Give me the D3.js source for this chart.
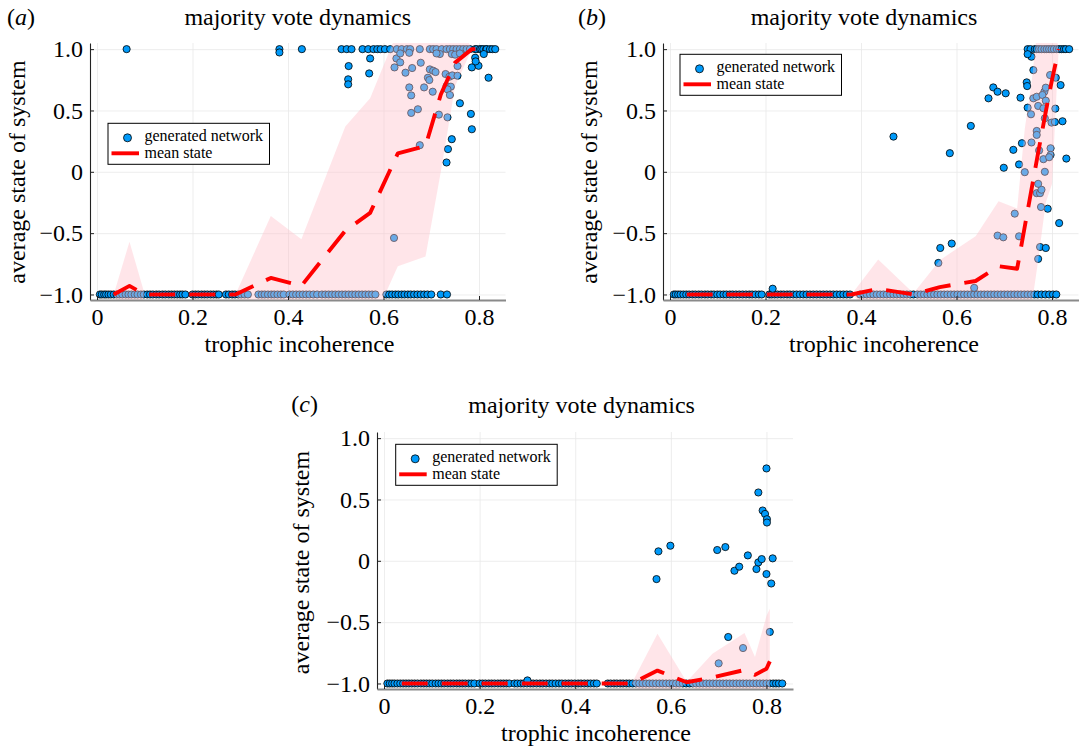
<!DOCTYPE html>
<html>
<head>
<meta charset="utf-8">
<script src="https://cdn.jsdelivr.net/npm/d3@7"></script>
<style>
  html, body { margin: 0; padding: 0; background: #fff; }
  svg { display: block; }
  text { font-family: "Liberation Serif", "Times New Roman", serif; fill: #000; }
</style>
</head>
<body>
<svg id="chart" width="1079" height="746"></svg>
<script>
// ---------- shared axis values ----------
const xTicks = [0, 0.2, 0.4, 0.6, 0.8];
const xTickLabels = ["0", "0.2", "0.4", "0.6", "0.8"];
const yTicks = [-1, -0.5, 0, 0.5, 1];
const yTickLabels = ["\u22121.0", "\u22120.5", "0", "0.5", "1.0"];
const titleText = "majority vote dynamics";
const xLabelText = "trophic incoherence";
const yLabelText = "average state of system";
const legendPoints = "generated network";
const legendLine = "mean state";

// ---------- panel (a) ----------
const aBottomX = [0.006, 0.010, 0.015, 0.019, 0.024, 0.029, 0.035, 0.041, 0.047, 0.053, 0.060, 0.066, 0.072, 0.079, 0.085, 0.092, 0.098, 0.105, 0.111, 0.117, 0.124, 0.130, 0.137, 0.143, 0.150, 0.156, 0.162, 0.168, 0.174, 0.179, 0.185,
  0.200, 0.206, 0.212, 0.219, 0.225, 0.231, 0.238, 0.244, 0.250, 0.255,
  0.270, 0.276, 0.283, 0.289, 0.296, 0.302, 0.309, 0.316,
  0.338, 0.345, 0.351, 0.358, 0.365, 0.371, 0.378, 0.385, 0.391,
  0.403, 0.410, 0.417, 0.424, 0.431, 0.438, 0.445, 0.453, 0.461,
  0.471, 0.478, 0.485, 0.492, 0.499, 0.506, 0.513, 0.520, 0.527, 0.534, 0.541, 0.548, 0.555, 0.562, 0.569, 0.576, 0.583,
  0.606, 0.612, 0.618, 0.625, 0.631, 0.638, 0.644, 0.651, 0.657, 0.664, 0.671, 0.678, 0.685, 0.692, 0.700,
  0.720, 0.733];
const aTopX = [0.062, 0.382, 0.429, 0.512, 0.523, 0.533, 0.556, 0.568, 0.579, 0.587, 0.594, 0.603, 0.614, 0.628, 0.638, 0.649, 0.656, 0.676, 0.697, 0.704, 0.711, 0.722, 0.732, 0.739, 0.746, 0.753, 0.760, 0.767, 0.774, 0.781, 0.792, 0.795, 0.802, 0.805, 0.809, 0.815, 0.816, 0.823, 0.828, 0.834];
const aPtX = [0.382, 0.527, 0.526, 0.526, 0.572, 0.570, 0.760, 0.783, 0.785, 0.743, 0.735, 0.732, 0.785, 0.799, 0.820, 0.810, 0.792, 0.793,
  0.623, 0.627, 0.635, 0.635, 0.654, 0.646, 0.660, 0.654, 0.658, 0.678, 0.685, 0.697, 0.704, 0.709, 0.693, 0.696, 0.703, 0.658, 0.672, 0.716, 0.734, 0.730, 0.738, 0.732, 0.741, 0.734, 0.744, 0.739, 0.755, 0.755, 0.676, 0.622, 0.743, 0.750, 0.760, 0.718, 0.711];
const aPtY = [0.973, 0.862, 0.754, 0.713, 0.924, 0.802, 0.559, 0.472, 0.347, 0.266, 0.185, 0.076, 0.851, 0.864, 0.767, 0.960, 0.930, 0.900,
  0.851, 0.924, 0.892, 0.965, 0.970, 0.808, 0.846, 0.688, 0.623, 0.889, 0.688, 0.835, 0.824, 0.813, 0.767, 0.748, 0.653, 0.480, 0.510, 0.466, 0.444, 0.797, 0.775, 0.699, 0.694, 0.672, 0.786, 0.626, 0.862, 0.783, 0.217, -0.539, 0.960, 0.955, 0.965, 0.960, 0.965];
const aBinX = [0.035, 0.068, 0.100, 0.160, 0.200, 0.245, 0.290, 0.364, 0.428, 0.520, 0.572, 0.630, 0.688, 0.720, 0.750, 0.785, 0.815];
const aMean = [-1, -0.93, -1, -1, -1, -1, -1, -0.865, -0.93, -0.48, -0.335, 0.15, 0.21, 0.63, 0.89, 1.0, 1.0];
const aHi   = [-1, -0.57, -1, -1, -1, -1, -1, -0.36, -0.55, 0.37, 0.60, 1.15, 1.15, 1.30, 1.30, 1.0, 1.0];
const aLo   = [-1, -1.29, -1, -1, -1, -1, -1, -1.37, -1.31, -1.33, -1.27, -0.77, -0.69, 0.0, 0.70, 1.0, 1.0];

// ---------- panel (b) ----------
const bBottomX = [0.008, 0.012, 0.017, 0.022, 0.028, 0.034, 0.040, 0.047, 0.053, 0.060, 0.066, 0.073, 0.079, 0.086, 0.092, 0.099, 0.105, 0.112, 0.118, 0.125, 0.131, 0.138, 0.145, 0.152, 0.159, 0.166, 0.172, 0.179, 0.186, 0.192,
  0.208, 0.213, 0.219, 0.225, 0.232, 0.238, 0.245, 0.251, 0.258, 0.265, 0.272, 0.279, 0.286, 0.293, 0.300, 0.307, 0.314, 0.321, 0.328, 0.335, 0.342, 0.349, 0.356, 0.363, 0.370, 0.377,
  0.398, 0.405, 0.412, 0.419, 0.426, 0.433, 0.440, 0.447, 0.454, 0.461, 0.468, 0.475, 0.482, 0.489, 0.496, 0.503, 0.510, 0.518, 0.525, 0.532, 0.539, 0.546, 0.553, 0.560, 0.567, 0.574, 0.581, 0.588, 0.595, 0.602, 0.609, 0.616, 0.623, 0.630, 0.637, 0.644, 0.651, 0.658, 0.665, 0.672, 0.679, 0.686, 0.693, 0.700, 0.707, 0.714, 0.721, 0.728, 0.735, 0.742, 0.749, 0.756, 0.763, 0.770, 0.778, 0.786, 0.794, 0.802, 0.809];
const bTopX = [0.749, 0.755, 0.764, 0.768, 0.773, 0.778, 0.784, 0.789, 0.794, 0.799, 0.804, 0.810, 0.815, 0.820, 0.825, 0.829, 0.836];
const bPtX = [0.468, 0.586, 0.566, 0.590, 0.630, 0.667, 0.677, 0.686, 0.703, 0.734, 0.699, 0.719, 0.731, 0.737, 0.747, 0.748, 0.749, 0.757, 0.749, 0.761, 0.775, 0.787, 0.791, 0.815, 0.818, 0.822, 0.830, 0.215,
  0.562, 0.637, 0.686, 0.698, 0.722, 0.731, 0.743, 0.757, 0.768, 0.768, 0.773, 0.782, 0.785, 0.768, 0.775, 0.778, 0.771, 0.777, 0.761, 0.768, 0.771, 0.782, 0.784, 0.787, 0.796, 0.808, 0.807, 0.799, 0.806, 0.797, 0.797, 0.794, 0.785, 0.756, 0.780, 0.787, 0.771];
const bPtY = [0.287, 0.152, -0.621, -0.585, 0.374, 0.599, 0.688, 0.653, 0.640, 0.604, 0.033, 0.179, 0.060, 0.233, 0.729, 0.699, 0.523, 0.938, 0.959, 0.829, -0.613, -0.621, -0.301, -0.418, 0.707, 0.412, 0.108, -0.953,
  -0.743, -0.946, -0.520, -0.534, -0.341, -0.526, -0.003, 0.239, 0.333, 0.301, 0.174, 0.103, 0.000, -0.174, -0.174, -0.146, -0.098, -0.287, 0.599, 0.612, 0.537, 0.518, 0.653, 0.686, 0.789, 0.767, 0.515, 0.401, 0.406, 0.192, 0.138, 0.119, 0.436, 0.469, 0.626, 0.580, -0.710];
const bBinX = [0.035, 0.090, 0.140, 0.190, 0.240, 0.300, 0.380, 0.436, 0.510, 0.565, 0.640, 0.688, 0.727, 0.743, 0.757, 0.770, 0.787, 0.800, 0.814];
const bMean = [-1, -1, -1, -1, -1, -1, -1, -0.954, -1.0, -0.94, -0.89, -0.77, -0.79, -0.446, -0.145, 0.135, 0.49, 0.75, 1.0];
const bHi   = [-1, -1, -1, -1, -1, -1, -1, -0.715, -0.99, -0.72, -0.525, -0.24, -0.30, 0.35, 0.72, 1.20, 1.30, 1.30, 1.0];
const bLo   = [-1, -1, -1, -1, -1, -1, -1, -1.19, -1.01, -1.16, -1.255, -1.30, -1.28, -1.25, -1.10, -0.75, -0.25, -0.10, 1.0];

// ---------- panel (c) ----------
const cBottomX = [0.007, 0.012, 0.017, 0.022, 0.028, 0.034, 0.040, 0.046, 0.052, 0.058, 0.064, 0.070, 0.077, 0.083, 0.089, 0.095, 0.101, 0.108, 0.114, 0.120, 0.126, 0.133, 0.139, 0.145, 0.152, 0.158, 0.164, 0.170, 0.177, 0.183, 0.189,
  0.200, 0.206, 0.212, 0.219, 0.225, 0.231, 0.238, 0.244, 0.250, 0.256, 0.262,
  0.273, 0.279, 0.286, 0.292, 0.299, 0.306, 0.312, 0.319, 0.326, 0.332, 0.339, 0.346, 0.352, 0.359, 0.366, 0.372, 0.379, 0.386, 0.392, 0.399, 0.406, 0.412, 0.419, 0.426, 0.432, 0.439, 0.445,
  0.468, 0.474, 0.481, 0.487, 0.494, 0.500, 0.507, 0.513, 0.520, 0.527, 0.534, 0.541, 0.548, 0.555, 0.562, 0.569, 0.576, 0.583, 0.590, 0.597, 0.604, 0.611, 0.618, 0.625, 0.632, 0.639, 0.646, 0.653, 0.660, 0.667, 0.674, 0.681, 0.688, 0.695, 0.702, 0.709, 0.716, 0.723, 0.730, 0.737, 0.744, 0.751, 0.758, 0.765, 0.772, 0.779, 0.786, 0.793, 0.800, 0.807, 0.814, 0.820, 0.826, 0.833];
const cTopX = [];
const cPtX = [0.800, 0.783, 0.792, 0.797, 0.801, 0.801, 0.570, 0.574, 0.599, 0.697, 0.714, 0.733, 0.743, 0.761, 0.779, 0.783, 0.790, 0.800, 0.810, 0.813, 0.720, 0.300,
  0.700, 0.751, 0.807];
const cPtY = [0.753, 0.557, 0.410, 0.382, 0.339, 0.312, -0.149, 0.077, 0.123, 0.088, 0.112, -0.081, -0.048, 0.044, -0.067, -0.013, 0.014, -0.108, -0.185, 0.020, -0.621, -0.975,
  -0.836, -0.711, -0.580];
const cBinX = [0.037, 0.100, 0.200, 0.300, 0.400, 0.450, 0.518, 0.572, 0.633, 0.687, 0.754, 0.776, 0.800, 0.807];
const cMean = [-1, -1, -1, -1, -1, -1, -1, -0.895, -0.99, -0.95, -0.89, -0.93, -0.88, -0.82];
const cHi   = [-1, -1, -1, -1, -1, -1, -1, -0.594, -0.985, -0.757, -0.589, -0.785, -0.45, -0.39];
const cLo   = [-1, -1, -1, -1, -1, -1, -1, -1.196, -0.995, -1.143, -1.191, -1.075, -1.31, -1.25];

// ---------- layout of the three panels ----------
const panels = [
  { tag: "a", bottomX: aBottomX, topX: aTopX, ptX: aPtX, ptY: aPtY, binX: aBinX, mean: aMean, hi: aHi, lo: aLo,
    box: { l: 90, r: 505.5, t: 43, b: 300 }, titleAt: [297.7, 25], tagAt: [7, 25], yLabAt: [24.5, 172], xLabAt: [299.5, 352], legendAt: [108, 123.3] },
  { tag: "b", bottomX: bBottomX, topX: bTopX, ptX: bPtX, ptY: bPtY, binX: bBinX, mean: bMean, hi: bHi, lo: bLo,
    box: { l: 663, r: 1078.5, t: 43, b: 300 }, titleAt: [864, 25], tagAt: [578, 25], yLabAt: [597, 172], xLabAt: [884, 352], legendAt: [680, 54.3] },
  { tag: "c", bottomX: cBottomX, topX: cTopX, ptX: cPtX, ptY: cPtY, binX: cBinX, mean: cMean, hi: cHi, lo: cLo,
    box: { l: 377, r: 793, t: 432, b: 689 }, titleAt: [581.6, 413.3], tagAt: [291.3, 411.7], yLabAt: [309, 562.5], xLabAt: [596, 741], legendAt: [395.7, 444.3] }
];

const xDomain = [-0.0147, 0.8555];
const yDomain = [-1.045, 1.05];
const pointFill = "#009afa";
const ribbonFill = "#ffc0cb";
const lineColor = "#ff0000";

const svg = d3.select("#chart");
svg.append("rect").attr("width", 1079).attr("height", 746).attr("fill", "#fff");

panels.forEach((p) => {
  const x = d3.scaleLinear().domain(xDomain).range([p.box.l, p.box.r]);
  const y = d3.scaleLinear().domain(yDomain).range([p.box.b, p.box.t]);
  const w = p.box.r - p.box.l, h = p.box.b - p.box.t;
  const g = svg.append("g");

  const clipId = "clip-" + p.tag;
  svg.append("clipPath").attr("id", clipId)
    .append("rect").attr("x", p.box.l).attr("y", p.box.t).attr("width", w).attr("height", h);

  // grid
  g.append("g").attr("transform", `translate(0,${p.box.b})`)
    .call(d3.axisBottom(x).tickValues(xTicks).tickSize(-h).tickFormat(""))
    .call(s => s.select(".domain").remove())
    .call(s => s.selectAll("line").attr("stroke", "#e9e9e9").attr("stroke-width", 0.8));
  g.append("g").attr("transform", `translate(${p.box.l},0)`)
    .call(d3.axisLeft(y).tickValues(yTicks).tickSize(-w).tickFormat(""))
    .call(s => s.select(".domain").remove())
    .call(s => s.selectAll("line").attr("stroke", "#e9e9e9").attr("stroke-width", 0.8));

  // scatter of generated networks
  const pts = [];
  p.bottomX.forEach(v => pts.push([v, -1]));
  p.topX.forEach(v => pts.push([v, 1]));
  p.ptX.forEach((v, k) => pts.push([v, p.ptY[k]]));
  const plot = g.append("g").attr("clip-path", `url(#${clipId})`);
  plot.append("g").selectAll("circle").data(pts).join("circle")
    .attr("cx", d => x(d[0])).attr("cy", d => y(d[1])).attr("r", 3.6)
    .attr("fill", pointFill).attr("stroke", "#000").attr("stroke-width", 0.8);

  // ribbon (mean ± spread), drawn over the points
  const band = p.binX.map((v, k) => ({ x: v, lo: p.lo[k], hi: p.hi[k], m: p.mean[k] }));
  plot.append("path").datum(band)
    .attr("d", d3.area().x(d => x(d.x)).y0(d => y(d.lo)).y1(d => y(d.hi)))
    .attr("fill", ribbonFill).attr("fill-opacity", 0.42).attr("stroke", "none");

  // mean state
  plot.append("path").datum(band)
    .attr("d", d3.line().x(d => x(d.x)).y(d => y(d.m)))
    .attr("fill", "none").attr("stroke", lineColor).attr("stroke-width", 3.9)
    .attr("stroke-dasharray", "26,14").attr("stroke-linejoin", "round");

  // axes
  const yAxis = g.append("g").attr("transform", `translate(${p.box.l},0)`)
    .call(d3.axisLeft(y).tickValues(yTicks).tickFormat((d, k) => yTickLabels[k])
      .tickSizeInner(-4).tickSizeOuter(0).tickPadding(7));
  yAxis.select(".domain").attr("stroke", "#222").attr("stroke-width", 1.1);
  yAxis.selectAll(".tick line").attr("stroke", "#222");
  yAxis.selectAll("text").attr("font-size", 24).attr("font-family", "Liberation Serif, serif").attr("fill", "#000");

  const xAxis = g.append("g").attr("transform", `translate(0,${p.box.b})`)
    .call(d3.axisBottom(x).tickValues(xTicks).tickFormat((d, k) => xTickLabels[k])
      .tickSizeInner(-4).tickSizeOuter(0).tickPadding(8));
  xAxis.select(".domain").attr("stroke", "#8a8a8a").attr("stroke-width", 2);
  xAxis.selectAll(".tick line").attr("stroke", "#222");
  xAxis.selectAll("text").attr("font-size", 24).attr("font-family", "Liberation Serif, serif").attr("fill", "#000");

  // texts
  g.append("text").attr("x", p.titleAt[0]).attr("y", p.titleAt[1])
    .attr("text-anchor", "middle").attr("font-size", 24).text(titleText);
  const tag = g.append("text").attr("x", p.tagAt[0]).attr("y", p.tagAt[1]).attr("font-size", 24);
  tag.append("tspan").text("(");
  tag.append("tspan").attr("font-style", "italic").text(p.tag);
  tag.append("tspan").text(")");
  g.append("text").attr("transform", `translate(${p.yLabAt[0]},${p.yLabAt[1]}) rotate(-90)`)
    .attr("text-anchor", "middle").attr("font-size", 24).text(yLabelText);
  g.append("text").attr("x", p.xLabAt[0]).attr("y", p.xLabAt[1])
    .attr("text-anchor", "middle").attr("font-size", 24).text(xLabelText);

  // legend
  const lg = g.append("g").attr("transform", `translate(${p.legendAt[0]},${p.legendAt[1]})`);
  lg.append("rect").attr("width", 161.5).attr("height", 41)
    .attr("fill", "#fff").attr("stroke", "#000").attr("stroke-width", 1);
  lg.append("circle").attr("cx", 19.5).attr("cy", 14.5).attr("r", 4)
    .attr("fill", pointFill).attr("stroke", "#000").attr("stroke-width", 0.8);
  lg.append("line").attr("x1", 3.5).attr("x2", 31).attr("y1", 30).attr("y2", 30)
    .attr("stroke", lineColor).attr("stroke-width", 3.9);
  lg.append("text").attr("x", 36.5).attr("y", 17.6).attr("font-size", 16).text(legendPoints);
  lg.append("text").attr("x", 36.5).attr("y", 34.5).attr("font-size", 16).text(legendLine);
});
</script>
</body>
</html>
